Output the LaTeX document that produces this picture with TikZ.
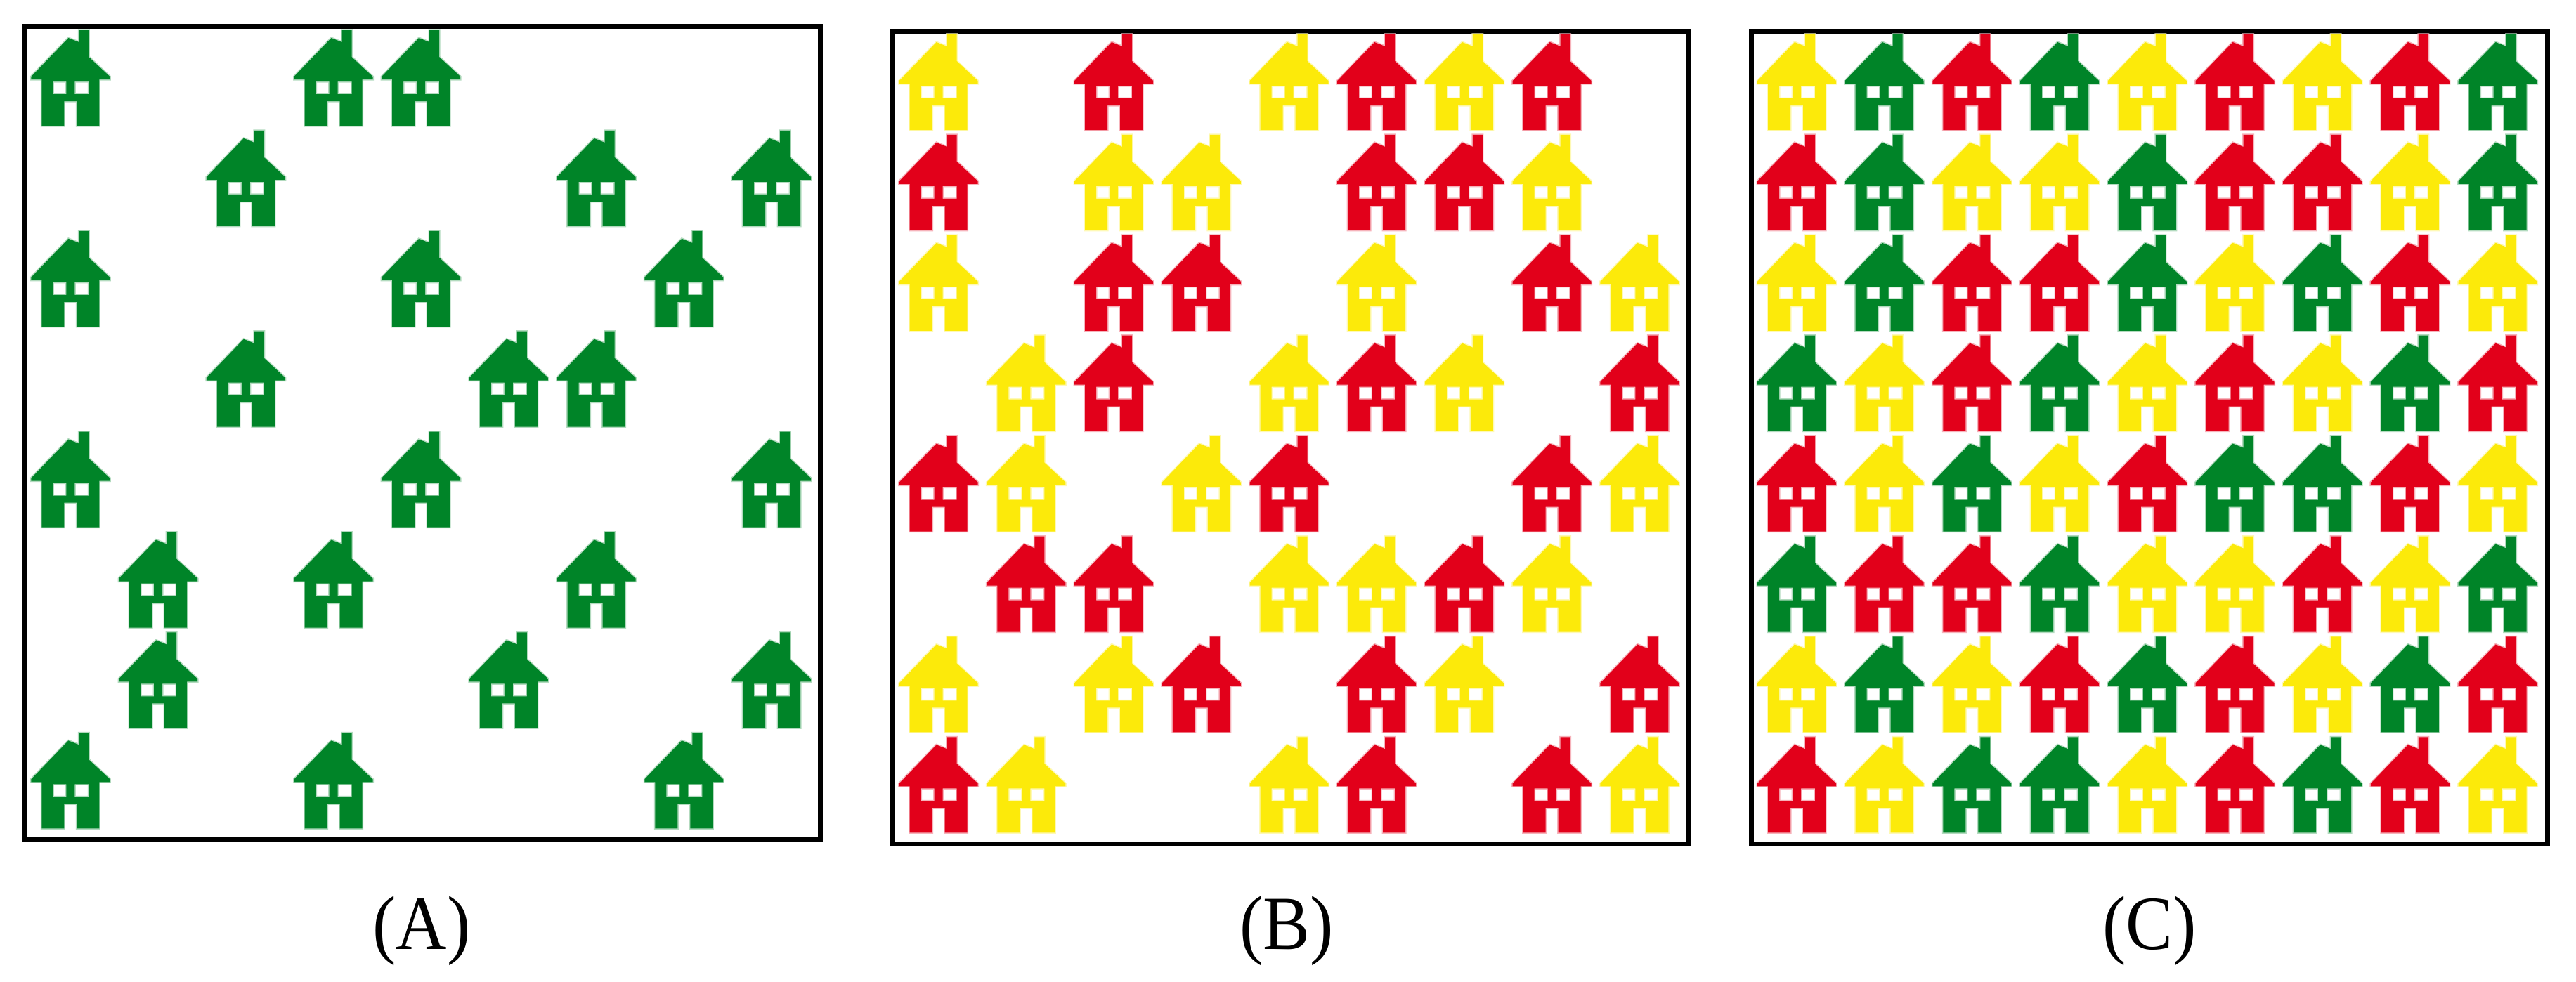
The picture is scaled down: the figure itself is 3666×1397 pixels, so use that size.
\documentclass[tikz,border=0pt]{standalone}
\usepackage{fontspec}
\setmainfont[FakeStretch=0.92]{Liberation Serif}

\definecolor{grn}{RGB}{0,132,40}
\definecolor{rd}{RGB}{226,0,26}
\definecolor{yel}{RGB}{252,234,10}

\tikzset{
    frame/.style={draw=black, line width=7pt, fill=none},
    caption/.style={anchor=base, inner sep=0pt, font=\fontsize{109}{120}\selectfont},
    pics/house/.style={code={
        \fill[#1, even odd rule, preaction={draw=#1!30, line width=3pt}]
            (12,0) -- (26,0) -- (26,38) -- (56,66) -- (56,70) -- (41,70)
            -- (41,136) -- (9,136) -- (9,101) -- (-9,101) -- (-9,136) -- (-41,136) -- (-41,70)
            -- (-56,70) -- (-56,66) -- (-3,11) -- (12,17) -- cycle
            (-25,73) rectangle (-6,91) (6,73) rectangle (26,91);
    }}
}

% #1 x of first column, #2 y of first row, #3 rows of column/colour
\newcommand{\panelhouses}[3]{
    \foreach \row/\houses in {#3} {
        \foreach \col/\colour in \houses {
            \pic at ({#1+124.7*\col},{#2+142.9*\row}) {house=\colour};
        }
    }
}

\begin{document}
\begin{tikzpicture}[x=1pt, y=-1pt]
    \useasboundingbox (0,0) rectangle (3666,1397);

    \draw[frame] (35.5,38) rectangle (1167,1195);
    \draw[frame] (1270.5,44.5) rectangle (2402,1201.5);
    \draw[frame] (2492.5,44.5) rectangle (3625,1201.5);

    \panelhouses{100.4}{43}{
        0/{0/grn,3/grn,4/grn},
        1/{2/grn,6/grn,8/grn},
        2/{0/grn,4/grn,7/grn},
        3/{2/grn,5/grn,6/grn},
        4/{0/grn,4/grn,8/grn},
        5/{1/grn,3/grn,6/grn},
        6/{1/grn,5/grn,8/grn},
        7/{0/grn,3/grn,7/grn}}
    \panelhouses{1335.7}{49}{
        0/{0/yel,2/rd,4/yel,5/rd,6/yel,7/rd},
        1/{0/rd,2/yel,3/yel,5/rd,6/rd,7/yel},
        2/{0/yel,2/rd,3/rd,5/yel,7/rd,8/yel},
        3/{1/yel,2/rd,4/yel,5/rd,6/yel,8/rd},
        4/{0/rd,1/yel,3/yel,4/rd,7/rd,8/yel},
        5/{1/rd,2/rd,4/yel,5/yel,6/rd,7/yel},
        6/{0/yel,2/yel,3/rd,5/rd,6/yel,8/rd},
        7/{0/rd,1/yel,4/yel,5/rd,7/rd,8/yel}}
    \panelhouses{2557}{49}{
        0/{0/yel,1/grn,2/rd,3/grn,4/yel,5/rd,6/yel,7/rd,8/grn},
        1/{0/rd,1/grn,2/yel,3/yel,4/grn,5/rd,6/rd,7/yel,8/grn},
        2/{0/yel,1/grn,2/rd,3/rd,4/grn,5/yel,6/grn,7/rd,8/yel},
        3/{0/grn,1/yel,2/rd,3/grn,4/yel,5/rd,6/yel,7/grn,8/rd},
        4/{0/rd,1/yel,2/grn,3/yel,4/rd,5/grn,6/grn,7/rd,8/yel},
        5/{0/grn,1/rd,2/rd,3/grn,4/yel,5/yel,6/rd,7/yel,8/grn},
        6/{0/yel,1/grn,2/yel,3/rd,4/grn,5/rd,6/yel,7/grn,8/rd},
        7/{0/rd,1/yel,2/grn,3/grn,4/yel,5/rd,6/grn,7/rd,8/yel}}

    \node[caption] (labelA) at (600,1351) {(A)};
    \node[caption] (labelB) at (1831,1351) {(B)};
    \node[caption] (labelC) at (3059,1351) {(C)};
\end{tikzpicture}
\end{document}
